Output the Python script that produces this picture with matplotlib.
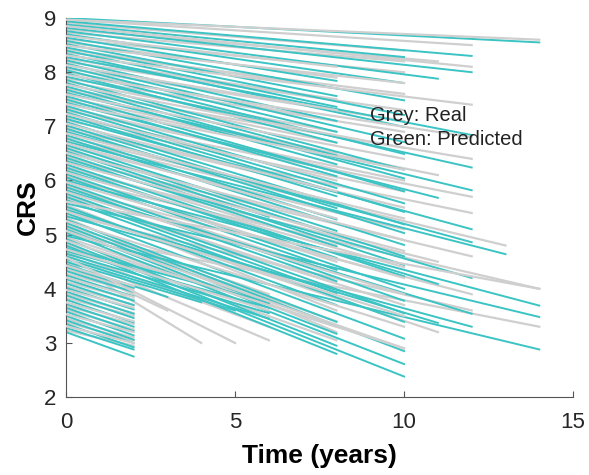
import numpy as np
import matplotlib.pyplot as plt

plt.rcParams['font.family'] = ['Liberation Sans', 'DejaVu Sans']

# one entry per subject: predicted baseline CRS, observed baseline CRS,
# follow-up length (years), predicted / observed CRS at end of follow-up
start = [3.20, 3.28, 3.35, 3.42, 3.50, 3.58, 3.65, 3.72, 3.80, 3.88, 3.95, 4.02, 4.10, 4.18, 4.25, 4.33, 4.40,
         4.45, 4.50, 4.55, 4.60, 4.65, 4.70, 4.75,
         4.80, 4.86, 4.92, 4.98, 5.04, 5.10, 5.16, 5.22, 5.28, 5.34, 5.40, 5.46, 5.52, 5.58, 5.64, 5.70,
         5.76, 5.82, 5.88, 5.94, 6.00, 6.06, 6.12, 6.18, 6.24, 6.30, 6.36, 6.42, 6.48, 6.54, 6.60, 6.66,
         6.72, 6.78, 6.84, 6.90, 6.96, 7.02, 7.08, 7.14, 7.20, 7.26, 7.32, 7.38, 7.44, 7.50, 7.56, 7.62,
         7.68, 7.74, 7.80, 7.86, 7.92, 7.98, 8.04, 8.10, 8.16, 8.22, 8.28, 8.34, 8.40, 8.46, 8.52, 8.58,
         8.64, 8.70, 8.76, 8.82, 8.88, 8.94, 9.00]
real_start = [3.23, 3.31, 3.38, 3.45, 3.53, 3.61, 3.68, 3.75, 3.83, 3.91, 3.98, 4.05, 4.13, 4.21, 4.28, 4.36, 4.43,
              4.48, 4.53, 4.58, 4.63, 4.68, 4.73, 4.78,
              4.83, 4.89, 4.95, 5.01, 5.07, 5.13, 5.19, 5.25, 5.31, 5.37, 5.43, 5.49, 5.55, 5.61, 5.67, 5.73,
              5.79, 5.85, 5.91, 5.97, 6.03, 6.09, 6.15, 6.21, 6.27, 6.33, 6.39, 6.45, 6.51, 6.57, 6.63, 6.69,
              6.75, 6.81, 6.87, 6.93, 6.99, 7.05, 7.11, 7.17, 7.23, 7.29, 7.35, 7.41, 7.47, 7.53, 7.59, 7.65,
              7.71, 7.77, 7.83, 7.89, 7.95, 8.01, 8.07, 8.13, 8.19, 8.25, 8.31, 8.37, 8.43, 8.49, 8.55, 8.61,
              8.67, 8.73, 8.79, 8.85, 8.91, 8.97, 8.97]
years = [2, 2, 2, 2, 2, 2, 2, 2, 2, 2, 2, 2, 2, 2, 2, 2, 2,
         3, 4, 5, 6, 6, 6, 6,
         8, 10, 8, 14, 10, 8, 6, 10, 8, 12, 10, 11, 8, 14, 10, 8,
         10, 12, 8, 10, 14, 8, 10, 11, 8, 10, 12, 8, 10, 6, 10, 8,
         13, 10, 8, 12, 10, 8, 10, 12, 8, 10, 8, 10, 11, 8, 10, 12,
         8, 10, 8, 10, 12, 8, 10, 8, 10, 8, 12, 10, 8, 10, 8, 10,
         8, 10, 11, 12, 10, 12, 14]
predicted = [2.75, 2.88, 2.92, 3.00, 3.06, 3.14, 3.22, 3.30, 3.38, 3.46, 3.54, 3.62, 3.70, 3.78, 3.86, 3.94, 4.02,
             3.85, 3.75, 3.60, 3.45, 3.55, 3.65, 3.75,
             2.80, 2.38, 2.95, 2.88, 2.61, 3.17, 3.73, 2.85, 3.39, 3.30, 3.08, 3.37, 3.70, 3.48, 3.39, 3.92,
             3.55, 3.54, 4.14, 3.78, 3.69, 4.35, 4.00, 4.09, 4.57, 4.23, 4.20, 4.78, 4.44, 5.33, 4.60, 5.07,
             4.64, 4.81, 5.28, 4.86, 5.03, 5.49, 5.19, 5.10, 5.71, 5.42, 5.86, 5.58, 5.68, 6.08, 5.80, 5.82,
             6.30, 6.04, 6.46, 6.20, 6.24, 6.70, 6.49, 6.90, 6.71, 7.10, 6.84, 6.99, 7.36, 7.21, 7.56, 7.48,
             7.84, 7.80, 7.88, 8.00, 8.28, 8.30, 8.55]
real = [2.95, 3.00, 3.05, 3.10, 3.20, 3.25, 3.35, 3.40, 3.50, 3.55, 3.65, 3.70, 3.80, 3.85, 3.95, 4.00, 4.05,
        3.60, 3.00, 3.00, 3.05, 3.30, 3.60, 3.80,
        3.05, 2.90, 3.30, 3.30, 2.90, 3.40, 3.90, 3.30, 3.20, 3.60, 3.50, 3.20, 3.60, 4.00, 3.70, 4.10,
        3.90, 3.90, 4.30, 4.20, 4.00, 4.50, 4.40, 4.50, 4.80, 4.70, 4.60, 5.00, 4.90, 5.50, 5.10, 5.30,
        4.80, 5.30, 5.60, 5.40, 5.50, 5.80, 5.80, 5.70, 6.00, 6.00, 6.20, 6.20, 6.10, 6.50, 6.40, 6.40,
        6.70, 6.60, 6.90, 6.90, 6.80, 7.10, 7.10, 7.30, 7.30, 7.50, 7.40, 7.60, 7.70, 7.80, 7.90, 8.00,
        8.10, 8.20, 8.20, 8.10, 8.40, 8.50, 8.60]

grey = '#cfcfcf'
green = '#3cc4c4'

fig = plt.figure(figsize=(5.89, 4.75), dpi=100)
ax = fig.add_axes([0.112, 0.164, 0.861, 0.798])

for i, (s0, s1, t, p, r) in enumerate(zip(start, real_start, years, predicted, real)):
    # real and predicted curves interleave, grey sometimes on top
    z_grey = 3 if i % 3 == 1 else 1
    ax.plot([0, t], [s1, r], color=grey, lw=1.6, zorder=z_grey)
    ax.plot([0, t], [s0, p], color=green, lw=1.4, zorder=2)

ax.text(9.0, 7.2, 'Grey: Real', fontsize=14.5, va='center', color='#222222', zorder=5)
ax.text(9.0, 6.75, 'Green: Predicted', fontsize=14.5, va='center', color='#222222', zorder=5)

ax.set_xlim(0, 15)
ax.set_ylim(2, 9)
ax.set_xticks([0, 5, 10, 15])
ax.set_yticks(range(2, 10))
ax.tick_params(direction='in', labelsize=16, length=4, color='#555555', labelcolor='#262626')
ax.tick_params(axis='x', pad=11)
ax.tick_params(axis='y', pad=7)
ax.spines['top'].set_visible(False)
ax.spines['right'].set_visible(False)
for sp in ['left', 'bottom']:
    ax.spines[sp].set_color('#555555')
ax.set_xlabel('Time (years)', fontsize=19, fontweight='bold', labelpad=8)
ax.set_ylabel('CRS', fontsize=19, fontweight='bold', labelpad=3)

fig.savefig('out.png', dpi=100)
